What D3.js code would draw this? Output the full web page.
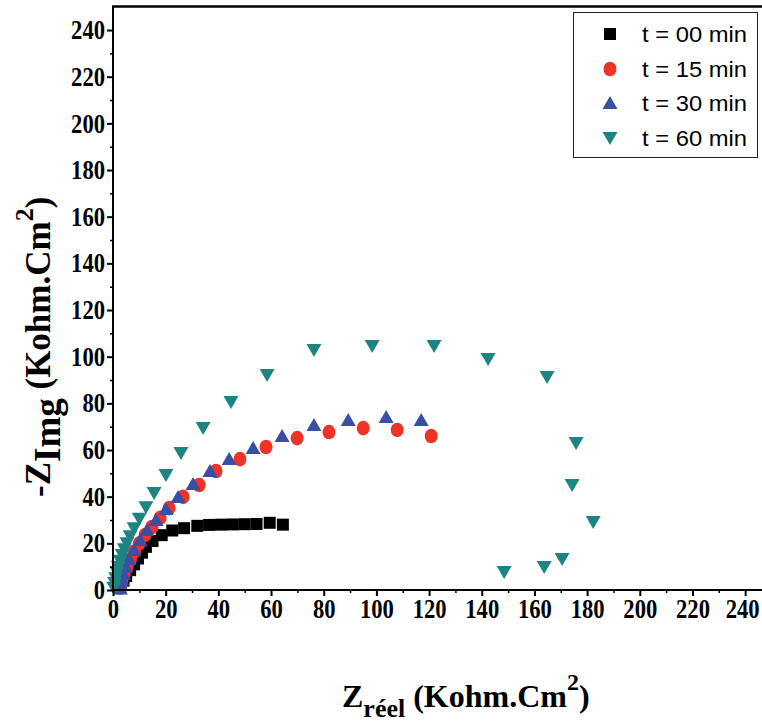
<!DOCTYPE html>
<html><head><meta charset="utf-8">
<script src="https://cdn.jsdelivr.net/npm/d3@7"></script>
<style>body{margin:0;background:#fff}svg{display:block}</style>
</head><body>
<svg id="c" width="762" height="724"></svg>
<script>
const xTicks = [0,20,40,60,80,100,120,140,160,180,200,220,240];
const yTicks = [0,20,40,60,80,100,120,140,160,180,200,220,240];
const seriesNames = ["t = 00 min","t = 15 min","t = 30 min","t = 60 min"];
const seriesColors = ["#000000","#ee3327","#3a4fa3","#1d8581"];
const seriesShapes = ["square","circle","triangleUp","triangleDown"];

const t00x = [64.5,59.5,54.5,50,45.5,41,36.5,32,27,22.5,18.5,15,12.5,11,9.5,8,6.5,5,4,3,2.5];
const t00y = [28.0,28.8,28.3,28.2,28.1,28.0,27.9,27.5,26.5,25.5,23.5,21.0,18.5,16,13.5,11,8.5,6,4,2,0.8];

const t15x = [120.8,107.9,95,82,69.9,58.1,48.2,39.1,32.7,26.6,21.3,17.9,14.8,12.2,10,8.2,6.6,5.3,4.3,3.5,3,2.8];
const t15y = [66,68.6,69.4,67.7,65.1,61.3,56.1,51,45,39.9,35.1,30.9,27,23.6,20,16.5,13,10,7,4.5,2.5,1];

const t30x = [117,103.7,89.3,76.3,64.2,53.2,44.1,36.8,30.4,24.7,20.1,16.3,12.9,10.3,8,6.1,4.9,4.0,3.4,3.0,2.8];
const t30y = [72.9,74.1,72.9,70.7,66,60.9,56.1,51,45.4,39.9,34.7,30,25.7,21.4,17.1,13.3,10,7,4.5,2.2,0.6];

const t60x = [0.3,0.6,1.0,1.5,2.0,2.7,3.5,4.3,5.3,6.5,8.0,10.0,12.5,15.6,20.1,25.8,34.2,44.8,58.5,76.3,98.4,121.9,142.4,164.8,175.8,174.3,182.3,170.5,163.7,148.5];
const t60y = [1,3,5,7.5,10,12.5,15,17.5,20,23,26.5,30.5,35.5,41.6,49.3,58.7,69.4,80.6,92.1,102.9,104.6,104.6,99,91.3,63,45,29.1,13.3,9.9,7.7];

const seriesX = [t00x,t15x,t30x,t60x];
const seriesY = [t00y,t15y,t30y,t60y];

const svg = d3.select("#c");
const x = d3.scaleLinear().domain([0,250]).range([113,771.5]);
const y = d3.scaleLinear().domain([0,250]).range([590,6.7]);

function shapePath(s){
  if(s==="square") return "M-6,-6H6V6H-6Z";
  if(s==="triangleUp") return "M0,-7L7.5,6L-7.5,6Z";
  if(s==="triangleDown") return "M0,7L7.5,-6L-7.5,-6Z";
  return null;
}
function drawMarker(g, s, color){
  if(s==="circle") g.append("ellipse").attr("rx",6.5).attr("ry",7.3).attr("fill",color);
  else g.append("path").attr("d",shapePath(s)).attr("fill",color);
}

// data
seriesNames.forEach((n,i)=>{
  const g = svg.append("g");
  seriesX[i].forEach((xv,j)=>{
    const m = g.append("g").attr("transform",`translate(${x(xv)},${y(seriesY[i][j])})`);
    drawMarker(m, seriesShapes[i], seriesColors[i]);
  });
});

const serif = "'Liberation Serif','Times New Roman',serif";
// axes
const xAxis = d3.axisBottom(x).tickValues(xTicks).tickSize(6).tickPadding(3).tickFormat(d3.format("d"));
const xMinor = d3.axisBottom(x).tickValues(d3.range(10,250,20)).tickSize(3).tickFormat("");
const yAxis = d3.axisLeft(y).tickValues(yTicks).tickSize(6).tickPadding(2).tickFormat(d3.format("d"));
const yMinor = d3.axisLeft(y).tickValues(d3.range(10,250,20)).tickSize(3).tickFormat("");

const gx = svg.append("g").attr("transform","translate(0,590)").call(xAxis);
svg.append("g").attr("transform","translate(0,590)").call(xMinor).call(g=>g.select(".domain").remove()).selectAll("line").attr("stroke-width",1.5);
const gy = svg.append("g").attr("transform","translate(113,0)").call(yAxis);
svg.append("g").attr("transform","translate(113,0)").call(yMinor).call(g=>g.select(".domain").remove()).selectAll("line").attr("stroke-width",1.5);

[gx,gy].forEach(g=>{
  g.select(".domain").remove();
  g.selectAll(".tick line").attr("stroke-width",2);
  g.selectAll("text").attr("font-family",serif).attr("font-weight","bold").attr("font-size",27).attr("fill","#000")
    .attr("textLength",d=>String(d).length*11.3).attr("lengthAdjust","spacingAndGlyphs");
});
gx.selectAll("text").attr("dy","0.72em");
gx.selectAll(".tick").filter(d=>d===240).select("text").attr("text-anchor","end").attr("x",14);
// frame lines
svg.append("line").attr("x1",113).attr("x2",762).attr("y1",590).attr("y2",590).attr("stroke","#000").attr("stroke-width",2);
svg.append("line").attr("x1",113).attr("x2",113).attr("y1",6).attr("y2",591).attr("stroke","#000").attr("stroke-width",2);
svg.append("line").attr("x1",112).attr("x2",762).attr("y1",6.5).attr("y2",6.5).attr("stroke","#000").attr("stroke-width",2.5);

// axis titles
const xt = svg.append("text").attr("x",342).attr("y",707).attr("font-family",serif).attr("font-weight","bold").attr("font-size",32).attr("fill","#000");
xt.append("tspan").text("Z");
xt.append("tspan").attr("font-size",26).attr("dy",10).text("réel");
xt.append("tspan").attr("dy",-10).text(" (Kohm.Cm");
xt.append("tspan").attr("font-size",24).attr("dy",-17).text("2");
xt.append("tspan").attr("dy",17).text(")");

const yt = svg.append("text").attr("transform","translate(50,497) rotate(-90)").attr("font-family",serif).attr("font-weight","bold").attr("font-size",35).attr("fill","#000");
yt.append("tspan").text("-Z");
yt.append("tspan").attr("font-size",37).attr("dy",10).text("Img");
yt.append("tspan").attr("dy",-10).text(" (Kohm.Cm");
yt.append("tspan").attr("font-size",26).attr("dy",-17).text("2");
yt.append("tspan").attr("dy",17).text(")");

// legend
const lg = svg.append("g");
lg.append("rect").attr("x",573.5).attr("y",12.5).attr("width",184).attr("height",145).attr("fill","#fff").attr("stroke","#222").attr("stroke-width",1);
const rowY = [34,69,103,138];
seriesNames.forEach((n,i)=>{
  const m = lg.append("g").attr("transform",`translate(610,${rowY[i]})`);
  drawMarker(m, seriesShapes[i], seriesColors[i]);
  lg.append("text").attr("x",642).attr("y",rowY[i]+8).attr("font-family","'Liberation Sans',Arial,sans-serif").attr("font-size",22)
    .attr("textLength",105).attr("lengthAdjust","spacingAndGlyphs").attr("fill","#000").text(n);
});
</script>
</body></html>
